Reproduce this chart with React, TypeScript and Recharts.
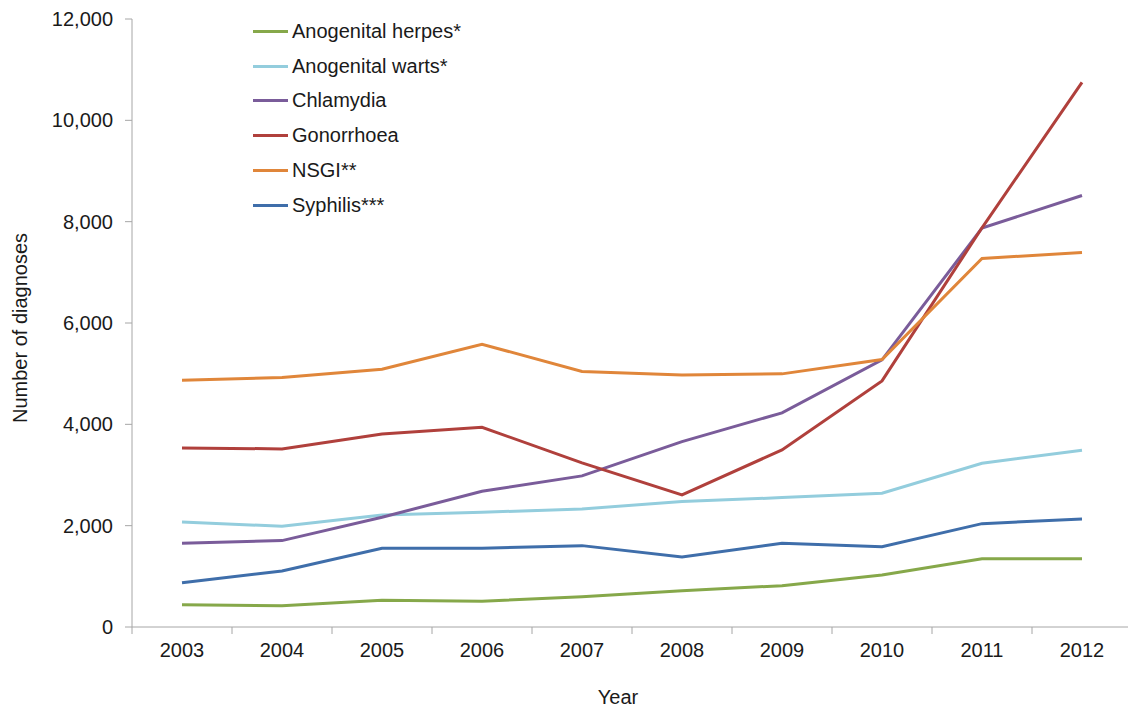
import React from 'react';
import { LineChart, Line, XAxis, YAxis, Legend, Label } from 'recharts';

const years = [2003, 2004, 2005, 2006, 2007, 2008, 2009, 2010, 2011, 2012];

const herpes = [441, 421, 527, 507, 599, 717, 816, 1027, 1349, 1349];
const warts = [2073, 1988, 2212, 2265, 2330, 2475, 2554, 2640, 3232, 3489];
const chlamydia = [1652, 1705, 2166, 2680, 2982, 3660, 4226, 5272, 7873, 8517];
const gonorrhoea = [3535, 3515, 3811, 3943, 3238, 2607, 3495, 4858, 7879, 10748];
const nsgi = [4872, 4923, 5088, 5582, 5042, 4976, 4996, 5279, 7273, 7392];
const syphilis = [875, 1106, 1554, 1554, 1606, 1382, 1652, 1586, 2040, 2133];

const yTicks = [0, 2000, 4000, 6000, 8000, 10000, 12000];

const series = [
  { key: 'herpes', name: 'Anogenital herpes*', color: '#86a84a', values: herpes },
  { key: 'warts', name: 'Anogenital warts*', color: '#93cddd', values: warts },
  { key: 'chlamydia', name: 'Chlamydia', color: '#7a5c9a', values: chlamydia },
  { key: 'gonorrhoea', name: 'Gonorrhoea', color: '#b0403c', values: gonorrhoea },
  { key: 'nsgi', name: 'NSGI**', color: '#e0863a', values: nsgi },
  { key: 'syphilis', name: 'Syphilis***', color: '#3f6eaa', values: syphilis },
];

const data = years.map((year, i) => {
  const row: Record<string, number> = { year };
  series.forEach(s => { row[s.key] = s.values[i]; });
  return row;
});

const FONT = '"Liberation Sans", Arial, sans-serif';
const FONT_SIZE = 20;
const AXIS = '#a6a6a6';
const TEXT = '#1a1a1a';

// plot is 1000px wide with 10 categories -> ticks sit half a category away
const HALF_STEP = 50;

const YearTick = (props: any) => {
  const { x, y, payload, index } = props;
  return (
    <g>
      <line x1={x - HALF_STEP} y1={y} x2={x - HALF_STEP} y2={y + 7} stroke={AXIS} />
      {index === years.length - 1 && (
        <line x1={x + HALF_STEP} y1={y} x2={x + HALF_STEP} y2={y + 7} stroke={AXIS} />
      )}
      <text x={x} y={y + 30} textAnchor="middle" fontSize={FONT_SIZE} fill={TEXT} fontFamily={FONT}>
        {payload.value}
      </text>
    </g>
  );
};

const LegendBox = () => (
  <div style={{ fontFamily: FONT, fontSize: FONT_SIZE, color: TEXT }}>
    {series.map(s => (
      <div key={s.key} style={{ display: 'flex', alignItems: 'center', height: 34.8 }}>
        <span style={{ display: 'inline-block', width: 35, height: 3, background: s.color, marginRight: 4 }} />
        <span>{s.name}</span>
      </div>
    ))}
  </div>
);

export default function App() {
  return (
    <div
      style={{
        position: 'fixed',
        left: 0,
        top: 0,
        width: 1128,
        height: 709,
        overflow: 'hidden',
        background: '#fff',
        fontFamily: FONT,
      }}
    >
      <LineChart width={1140} height={709} data={data} margin={{ top: 19, right: 8, bottom: 0, left: 0 }}>
        <XAxis
          dataKey="year"
          type="number"
          domain={[2002.5, 2012.5]}
          ticks={years}
          interval={0}
          height={82}
          tickLine={false}
          tickSize={0}
          tickMargin={0}
          axisLine={{ stroke: AXIS }}
          tick={<YearTick />}
        >
          <Label
            content={() => (
              <text x={618} y={704} textAnchor="middle" fontSize={FONT_SIZE} fill={TEXT} fontFamily={FONT}>
                Year
              </text>
            )}
          />
        </XAxis>
        <YAxis
          domain={[0, 12000]}
          ticks={yTicks}
          width={132}
          tickSize={7}
          tickMargin={12}
          axisLine={{ stroke: AXIS }}
          tickLine={{ stroke: AXIS }}
          tick={{ fontSize: FONT_SIZE, fill: TEXT, fontFamily: FONT }}
          tickFormatter={(v: number) => v.toLocaleString('en-US')}
        >
          <Label
            content={() => (
              <text
                transform="translate(26.5,328) rotate(-90)"
                textAnchor="middle"
                fontSize={FONT_SIZE}
                fill={TEXT}
                fontFamily={FONT}
              >
                Number of diagnoses
              </text>
            )}
          />
        </YAxis>
        <Legend
          layout="vertical"
          align="center"
          verticalAlign="middle"
          content={<LegendBox />}
          wrapperStyle={{ left: 253, top: 14, width: 'auto', height: 'auto' }}
        />
        {series.map(s => (
          <Line
            key={s.key}
            dataKey={s.key}
            name={s.name}
            stroke={s.color}
            strokeWidth={3}
            dot={false}
            activeDot={false}
            type="linear"
            isAnimationActive={false}
          />
        ))}
      </LineChart>
    </div>
  );
}
